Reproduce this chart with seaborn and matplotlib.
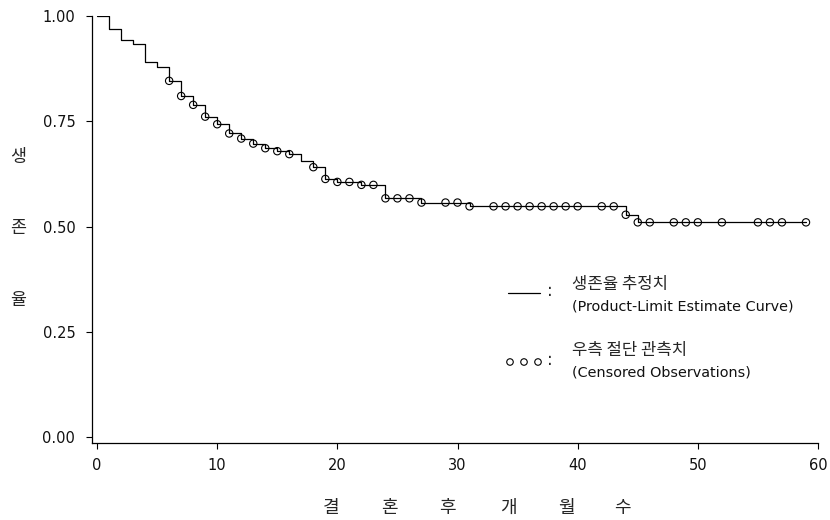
import numpy as np
import pandas as pd
import matplotlib
matplotlib.use("Agg")
import matplotlib.pyplot as plt
import seaborn as sns

# step curve (time, survival after that time), last point closes the curve
step_time = [0, 1, 2, 3, 4, 5, 6, 7, 8, 9, 10, 11, 12, 13, 14, 15, 16, 17, 18, 19,
             20, 22, 24, 27, 31, 44, 45, 59]
step_surv = [1.000, 0.969, 0.944, 0.933, 0.891, 0.878, 0.846, 0.810, 0.789, 0.761,
             0.743, 0.721, 0.709, 0.697, 0.686, 0.679, 0.672, 0.655, 0.641, 0.613,
             0.606, 0.599, 0.567, 0.557, 0.548, 0.528, 0.510, 0.510]

# censored observations
cens_time = [6, 7, 8, 9, 10, 11, 12, 13, 14, 15, 16, 18, 19, 20, 21, 22, 23, 24, 25,
             26, 27, 29, 30, 31, 33, 34, 35, 36, 37, 38, 39, 40, 42, 43, 44, 45, 46,
             48, 49, 50, 52, 55, 56, 57, 59]
cens_surv = [0.846, 0.810, 0.789, 0.761, 0.743, 0.721, 0.709, 0.697, 0.686, 0.679,
             0.672, 0.641, 0.613, 0.606, 0.606, 0.599, 0.599, 0.567, 0.567, 0.567,
             0.557, 0.557, 0.557, 0.548, 0.548, 0.548, 0.548, 0.548, 0.548, 0.548,
             0.548, 0.548, 0.548, 0.548, 0.528, 0.510, 0.510, 0.510, 0.510, 0.510,
             0.510, 0.510, 0.510, 0.510, 0.510]

x_ticks = [0, 10, 20, 30, 40, 50, 60]
y_ticks = [0.00, 0.25, 0.50, 0.75, 1.00]
ylabel_chars = ["생", "존", "율"]
xlabel_chars = ["결", "혼", "후", "개", "월", "수"]
legend_line_kr = "생존율 추정치"
legend_line_en = "(Product-Limit Estimate Curve)"
legend_cens_kr = "우측 절단 관측치"
legend_cens_en = "(Censored Observations)"

sns.set_style("ticks")
plt.rcParams["font.family"] = ["DejaVu Sans", "Noto Sans CJK KR"]
kr = ["Noto Sans CJK KR", "DejaVu Sans"]

steps = pd.DataFrame({"t": step_time, "s": step_surv})
cens = pd.DataFrame({"t": cens_time, "s": cens_surv})

fig = plt.figure(figsize=(8.3, 5.2), dpi=100)
ax = fig.add_axes([92 / 830, 77 / 520, 726 / 830, 427 / 520])

sns.lineplot(data=steps, x="t", y="s", ax=ax, color="black", linewidth=0.9,
             drawstyle="steps-post", estimator=None, sort=False)
sns.scatterplot(data=cens, x="t", y="s", ax=ax, marker="o", s=28,
                facecolors="none", edgecolor="black", linewidth=0.8, zorder=3)

ax.set_xlim(-0.42, 60)
ax.set_ylim(-0.014, 1.0)
ax.set_xticks(x_ticks)
ax.set_yticks(y_ticks)
ax.set_yticklabels([f"{v:.2f}" for v in y_ticks])
ax.set_xlabel("")
ax.set_ylabel("")
ax.tick_params(axis="both", labelsize=10.5, length=4, width=0.8, color="black",
               labelcolor="#111111")
ax.tick_params(axis="y", pad=8)
ax.tick_params(axis="x", pad=7)
for side in ["top", "right"]:
    ax.spines[side].set_visible(False)
for side in ["left", "bottom"]:
    ax.spines[side].set_color("black")
    ax.spines[side].set_linewidth(0.9)

# y label, one character per row
for ch, py in zip(ylabel_chars, [157, 228, 300]):
    fig.text(18 / 830, 1 - py / 520, ch, family=kr, fontsize=12.5,
             ha="center", va="center")

# x label, spaced out characters
for ch, px in zip(xlabel_chars, [331, 389, 447, 508, 566, 622]):
    fig.text(px / 830, 1 - 508 / 520, ch, family=kr, fontsize=13,
             ha="center", va="center")

# hand-drawn legend (in axes fraction)
def fx(px):
    return (px - 92) / 726

def fy(py):
    return (443 - py) / 427

ax.plot([fx(508), fx(540)], [fy(293), fy(293)], color="black", linewidth=0.9,
        transform=ax.transAxes, clip_on=False)
ax.text(fx(547), fy(291), ":", transform=ax.transAxes, fontsize=12,
        ha="left", va="center")
ax.text(fx(572), fy(284), legend_line_kr, transform=ax.transAxes, family=kr,
        fontsize=12, ha="left", va="center")
ax.text(fx(572), fy(307), legend_line_en, transform=ax.transAxes, fontsize=10.4,
        ha="left", va="center", color="#111111")

ax.scatter([fx(510), fx(524), fx(538)], [fy(362)] * 3, s=22, marker="o",
           facecolors="none", edgecolors="black", linewidths=0.8,
           transform=ax.transAxes, clip_on=False)
ax.text(fx(547), fy(360), ":", transform=ax.transAxes, fontsize=12,
        ha="left", va="center")
ax.text(fx(572), fy(351), legend_cens_kr, transform=ax.transAxes, family=kr,
        fontsize=12, ha="left", va="center")
ax.text(fx(572), fy(373), legend_cens_en, transform=ax.transAxes, fontsize=10.4,
        ha="left", va="center", color="#111111")

fig.savefig("out.png", dpi=100)
